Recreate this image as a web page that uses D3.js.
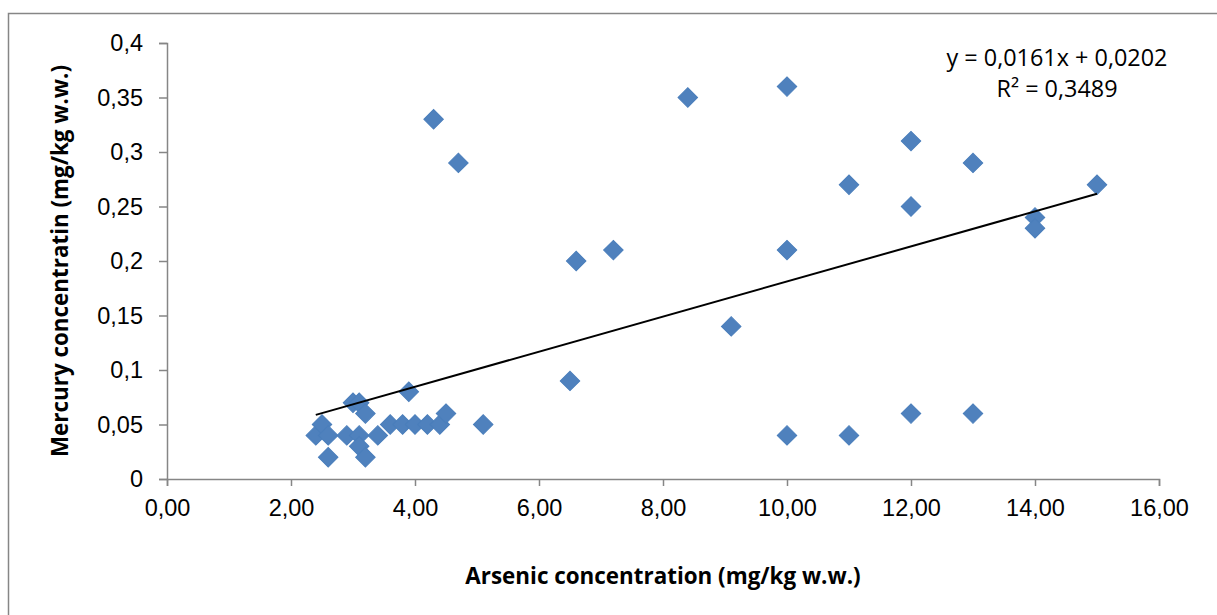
<!doctype html>
<html lang="en">
<head>
	<meta charset="UTF-8">
	<title>Arsenic vs Mercury</title>
	<style>
		body { margin: 0; background: #fff; }
		svg { display: block; font-family: "Open Sans", "Liberation Sans", sans-serif; }
		.axis path, .axis line { stroke: #868686; stroke-width: 1.5; }
		.axis text { fill: #000; font-size: 23.5px; }
	</style>
</head>
<body>
	<script src="https://cdn.jsdelivr.net/npm/d3@7"></script>
	<script>
		// arsenic (x) and mercury (y), mg/kg w.w.
		var arsenic = [2.4, 2.5, 2.6, 2.6, 2.9, 3.0, 3.1, 3.1, 3.1, 3.2, 3.2, 3.4, 3.6, 3.8, 3.9, 4.0, 4.2, 4.4, 4.5,
			4.3, 4.7, 5.1, 6.5, 6.6, 7.2, 8.4, 9.1, 10, 10, 10, 11, 11, 12, 12, 12, 13, 13, 14, 14, 15];
		var mercury = [0.04, 0.05, 0.04, 0.02, 0.04, 0.07, 0.07, 0.04, 0.03, 0.06, 0.02, 0.04, 0.05, 0.05, 0.08, 0.05, 0.05, 0.05, 0.06,
			0.33, 0.29, 0.05, 0.09, 0.20, 0.21, 0.35, 0.14, 0.36, 0.21, 0.04, 0.27, 0.04, 0.31, 0.25, 0.06, 0.29, 0.06, 0.24, 0.23, 0.27];

		var xTicks = [0, 2, 4, 6, 8, 10, 12, 14, 16];
		var yTicks = [0, 0.05, 0.1, 0.15, 0.2, 0.25, 0.3, 0.35, 0.4];

		var slope = 0.0161,
			intercept = 0.0202;
		var equation = ['y = 0,0161x + 0,0202', 'R² = 0,3489'];

		var w = 1217,
			h = 615,
			mLeft = 167,
			mRight = 1159,
			mTop = 43,
			mBottom = 479;

		var x = d3.scaleLinear().domain([0, 16]).range([mLeft, mRight]);
		var y = d3.scaleLinear().domain([0, 0.4]).range([mBottom, mTop]);

		var svg = d3.select('body')
				.append('svg')
				.attr('width', w)
				.attr('height', h);

		// chart frame
		svg.append('rect')
			.attr('x', 8.5)
			.attr('y', 13.5)
			.attr('width', w + 20)
			.attr('height', h + 20)
			.attr('fill', 'none')
			.attr('stroke', '#868686')
			.attr('stroke-width', 1.5);

		svg.append('g')
			.attr('class', 'axis')
			.attr('transform', 'translate(0,' + mBottom + ')')
			.call(d3.axisBottom(x).tickValues(xTicks).tickSize(7).tickSizeOuter(7).tickPadding(10)
				.tickFormat(function(d) { return d3.format('.2f')(d).replace('.', ','); }))
			.selectAll('text').attr('dy', '0.85em');

		svg.append('g')
			.attr('class', 'axis')
			.attr('transform', 'translate(' + mLeft + ',0)')
			.call(d3.axisLeft(y).tickValues(yTicks).tickSize(8).tickSizeOuter(8).tickPadding(16)
				.tickFormat(function(d) { return d === 0 ? '0' : String(+d.toFixed(2)).replace('.', ','); }));

		var points = arsenic.map(function(a, i) { return [a, mercury[i]]; });

		var diamond = d3.symbol().type(d3.symbolSquare).size(190);

		svg.append('g')
			.selectAll('path')
			.data(points)
			.enter()
			.append('path')
			.attr('d', diamond)
			.attr('transform', function(d) {
				return 'translate(' + x(d[0]) + ',' + y(d[1]) + ') rotate(45)';
			})
			.attr('fill', '#4f81bd')
			.attr('stroke', '#4a7ebb')
			.attr('stroke-width', 1);

		// linear trendline over the data range
		var xr = d3.extent(arsenic);
		svg.append('line')
			.attr('x1', x(xr[0]))
			.attr('y1', y(slope * xr[0] + intercept))
			.attr('x2', x(xr[1]))
			.attr('y2', y(slope * xr[1] + intercept))
			.attr('stroke', '#000')
			.attr('stroke-width', 2);

		svg.append('g')
			.selectAll('text')
			.data(equation)
			.enter()
			.append('text')
			.attr('x', 1057)
			.attr('y', function(d, i) { return 66 + i * 31; })
			.attr('text-anchor', 'middle')
			.attr('font-size', 23.4)
			.text(function(d) { return d; });

		svg.append('text')
			.attr('x', (mLeft + mRight) / 2)
			.attr('y', 584)
			.attr('text-anchor', 'middle')
			.attr('font-size', 22.4)
			.attr('font-weight', 'bold')
			.text('Arsenic concentration (mg/kg w.w.)');

		svg.append('text')
			.attr('transform', 'translate(68,' + (mTop + mBottom) / 2 + ') rotate(-90)')
			.attr('text-anchor', 'middle')
			.attr('font-size', 22.4)
			.attr('font-weight', 'bold')
			.text('Mercury concentratin (mg/kg w.w.)');
	</script>
</body>
</html>
